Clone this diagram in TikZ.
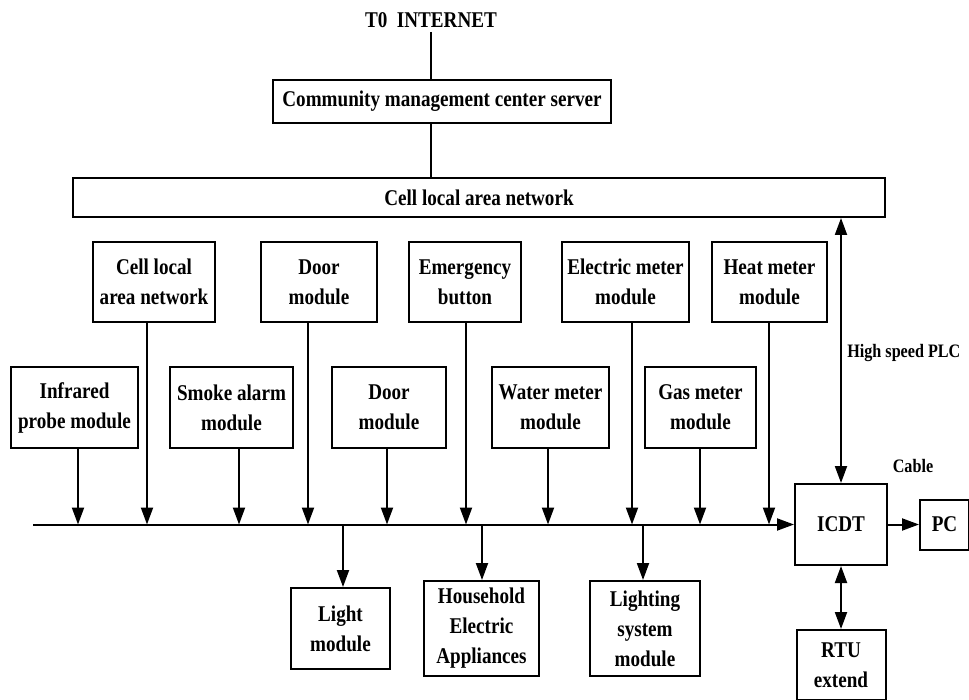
\documentclass[tikz,border=0pt]{standalone}
\usepackage{fontspec}
\setmainfont{Liberation Serif}[FakeStretch=0.85]
\usetikzlibrary{arrows.meta}
\usetikzlibrary{positioning}

\begin{document}
\begin{tikzpicture}[x=1pt, y=-1pt, line width=2pt,
	      font=\fontsize{22.5}{30}\selectfont\bfseries,
	      box/.style={draw, align=center, inner sep=0pt, minimum height=#1},
	      lbl/.style={font=\fontsize{19}{22}\selectfont\bfseries},
	      arr/.style={-{Triangle[length=17pt,width=12pt]}},
	      darr/.style={{Triangle[length=17pt,width=12pt]}-{Triangle[length=17pt,width=12pt]}}]
\useasboundingbox (0,0) rectangle (969,700);

\node (inet) at (431,20) {T0\ \ INTERNET};
\node [box=43, minimum width=338] (server) at (442,101.5) {Community management center server};
\node [box=39, minimum width=812] (lan) at (479,197.5) {Cell local area network};

\node [box=80, minimum width=122] (cellnet) at (154,282) {Cell local\\area network};
\node [box=80, minimum width=116] (doorA) at (319,282) {Door\\module};
\node [box=80, minimum width=112] (button) at (465,282) {Emergency\\button};
\node [box=80, minimum width=127] (elec) at (625.5,282) {Electric meter\\module};
\node [box=80, minimum width=115] (heat) at (769.5,282) {Heat meter\\module};

\node [box=81, minimum width=127] (infra) at (74.5,407.5) {Infrared\\probe module};
\node [box=81, minimum width=123] (smoke) at (231.5,407.5) {Smoke alarm\\module};
\node [box=81, minimum width=114] (doorB) at (389,407.5) {Door\\module};
\node [box=81, minimum width=117] (water) at (550.5,407.5) {Water meter\\module};
\node [box=81, minimum width=111] (gas) at (700.5,407.5) {Gas meter\\module};

\node [box=81, minimum width=92] (icdt) at (841,524.5) {ICDT};
\node [box=50, minimum width=49, right=31pt of icdt] (pc) {PC};
\node [box=70, minimum width=89, below=63pt of icdt] (rtu) {RTU\\extend};

\node [box=81, minimum width=99] (light) at (340.5,628.5) {Light\\module};
\node [box=95, minimum width=115] (house) at (481.5,628.5) {Household\\Electric\\Appliances};
\node [box=95, minimum width=110] (lightsys) at (645,628.5) {Lighting\\system\\module};

\node [lbl, anchor=west] (plc) at (843,353) {High speed PLC};
\node [lbl] (cable) at (913,466) {Cable};

\coordinate (bus) at (33,524.5);

\draw (inet) -- (inet |- server.north);
\draw (server.south -| inet) -- (lan.north -| inet);
\draw [arr] (bus) -- (icdt.west);
\foreach \src/\x in {infra/78, cellnet/147, smoke/239, doorA/308, doorB/387,
                     button/466, water/548, elec/632, gas/700, heat/769} {
  \coordinate (tap \src) at (\x,524.5);
  \draw [arr] (\src.south -| tap \src) -- (tap \src);
}
\foreach \dst/\x in {light/343, house/482, lightsys/643} {
  \coordinate (drop \dst) at (\x,524.5);
  \draw [arr] (drop \dst) -- (\dst.north -| drop \dst);
}
\draw [darr] (lan.south -| icdt) -- (icdt.north);
\draw [darr] (icdt) -- (rtu);
\draw [arr] (icdt) -- (pc);
\end{tikzpicture}
\end{document}
